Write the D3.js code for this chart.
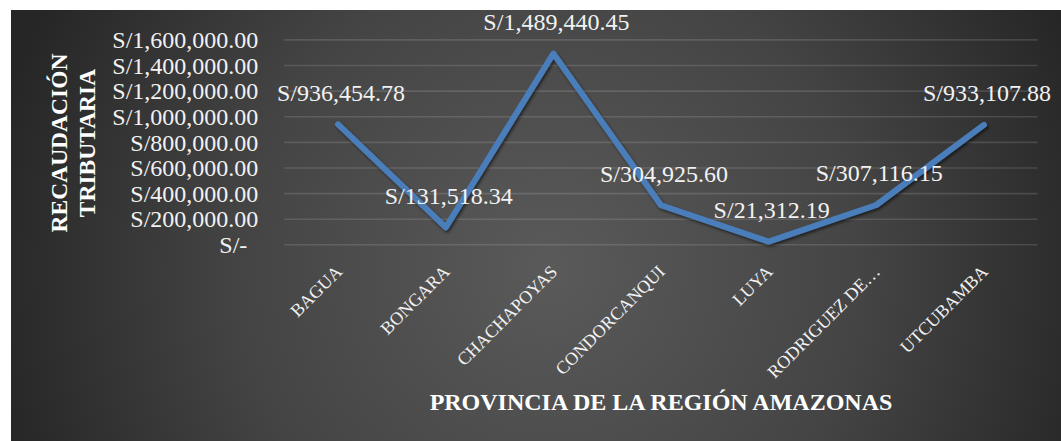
<!DOCTYPE html>
<html>
<head>
<meta charset="utf-8">
<script src="https://cdn.jsdelivr.net/npm/d3@7"></script>
<style>
  html, body { margin: 0; padding: 0; background: #ffffff; }
  svg { display: block; }
  text { font-family: "Liberation Serif", "Times New Roman", serif; }
</style>
</head>
<body>
<svg id="chart" width="1061" height="441"></svg>
<script>
// Provinces of the Amazonas region and their tax collection (S/)
const provincias = ["BAGUA", "BONGARA", "CHACHAPOYAS", "CONDORCANQUI", "LUYA", "RODRIGUEZ DE…", "UTCUBAMBA"];
const recaudacion = [936454.78, 131518.34, 1489440.45, 304925.60, 21312.19, 307116.15, 933107.88];
const valorEtiquetas = ["S/936,454.78", "S/131,518.34", "S/1,489,440.45", "S/304,925.60", "S/21,312.19", "S/307,116.15", "S/933,107.88"];
const tickValores = [0, 200000, 400000, 600000, 800000, 1000000, 1200000, 1400000, 1600000];
const tickEtiquetas = ["S/-", "S/200,000.00", "S/400,000.00", "S/600,000.00", "S/800,000.00", "S/1,000,000.00", "S/1,200,000.00", "S/1,400,000.00", "S/1,600,000.00"];
const tituloY = ["RECAUDACIÓN", "TRIBUTARIA"];
const tituloX = "PROVINCIA DE LA REGIÓN AMAZONAS";

const svg = d3.select("#chart");
const W = 1061, H = 441;
const serif = "Liberation Serif, Times New Roman, serif";

const defs = svg.append("defs");
const grad = defs.append("radialGradient")
  .attr("id", "fondo")
  .attr("gradientUnits", "userSpaceOnUse")
  .attr("cx", 550).attr("cy", 270).attr("r", 570);
grad.append("stop").attr("offset", "0%").attr("stop-color", "#5a5a5a");
grad.append("stop").attr("offset", "55%").attr("stop-color", "#444444");
grad.append("stop").attr("offset", "100%").attr("stop-color", "#262626");

const sombra = defs.append("filter").attr("id", "sombra")
  .attr("x", "-10%").attr("y", "-10%").attr("width", "120%").attr("height", "130%");
sombra.append("feDropShadow")
  .attr("dx", 1.5).attr("dy", 2).attr("stdDeviation", 1.8)
  .attr("flood-color", "#000").attr("flood-opacity", 0.55);

// chart area background
svg.append("rect")
  .attr("x", 11).attr("y", 10)
  .attr("width", W - 11).attr("height", H - 10)
  .attr("fill", "url(#fondo)");

const plot = { left: 284.3, right: 1037.7, top: 39.4, bottom: 244.3 };

const x = d3.scaleBand()
  .domain(provincias)
  .range([plot.left, plot.right])
  .padding(0);
const cx = d => x(d) + x.bandwidth() / 2;

const y = d3.scaleLinear()
  .domain([0, 1600000])
  .range([plot.bottom, plot.top]);

// horizontal gridlines
const grid = svg.append("g")
  .attr("transform", `translate(${plot.left},0)`)
  .call(d3.axisLeft(y).tickValues(tickValores).tickSize(-(plot.right - plot.left)).tickFormat(""));
grid.select(".domain").remove();
grid.selectAll(".tick line")
  .attr("stroke", "#ffffff").attr("stroke-opacity", 0.13).attr("stroke-width", 1.6);

// y axis labels
const yAxis = svg.append("g")
  .attr("transform", `translate(${plot.left - 26},0)`)
  .call(d3.axisLeft(y).tickValues(tickValores).tickSize(0).tickPadding(0)
    .tickFormat((d, i) => tickEtiquetas[i]));
yAxis.select(".domain").remove();
yAxis.selectAll(".tick text")
  .attr("fill", "#f2f2f2")
  .attr("font-size", 24)
  .attr("font-family", serif)
  .attr("dy", "0.34em")
  .attr("x", d => d === 0 ? -11 : 0);

// x axis labels, rotated
const xAxis = svg.append("g")
  .attr("transform", `translate(0,${plot.bottom})`)
  .call(d3.axisBottom(x).tickSize(0).tickPadding(0));
xAxis.select(".domain").remove();
xAxis.selectAll(".tick text")
  .attr("fill", "#f2f2f2")
  .attr("font-size", 18)
  .attr("font-family", serif)
  .attr("text-anchor", "end")
  .attr("dy", 0)
  .attr("y", 0)
  .attr("transform", "translate(5,28.5) rotate(-45)");

// line
const linea = d3.line()
  .x((d, i) => cx(provincias[i]))
  .y(d => y(d));

svg.append("path")
  .datum(recaudacion)
  .attr("d", linea)
  .attr("fill", "none")
  .attr("stroke", "#4a7ebb")
  .attr("stroke-width", 6)
  .attr("stroke-linejoin", "round")
  .attr("stroke-linecap", "round")
  .attr("filter", "url(#sombra)");

// value labels above points
svg.append("g").selectAll("text")
  .data(recaudacion)
  .join("text")
  .attr("x", (d, i) => cx(provincias[i]) + 3)
  .attr("y", d => y(d) - 23.5)
  .attr("text-anchor", "middle")
  .attr("fill", "#f2f2f2")
  .attr("font-size", 24)
  .text((d, i) => valorEtiquetas[i]);

// axis titles
const ty = svg.append("text")
  .attr("transform", "translate(0,143) rotate(-90)")
  .attr("text-anchor", "middle")
  .attr("fill", "#ffffff")
  .attr("font-weight", "bold")
  .attr("font-size", 23.5);
ty.selectAll("tspan")
  .data(tituloY)
  .join("tspan")
  .attr("x", 0)
  .attr("y", (d, i) => i === 0 ? 67 : 95)
  .text(d => d);

svg.append("text")
  .attr("x", (plot.left + plot.right) / 2)
  .attr("y", 410)
  .attr("text-anchor", "middle")
  .attr("fill", "#ffffff")
  .attr("font-weight", "bold")
  .attr("font-size", 24)
  .text(tituloX);
</script>
</body>
</html>
